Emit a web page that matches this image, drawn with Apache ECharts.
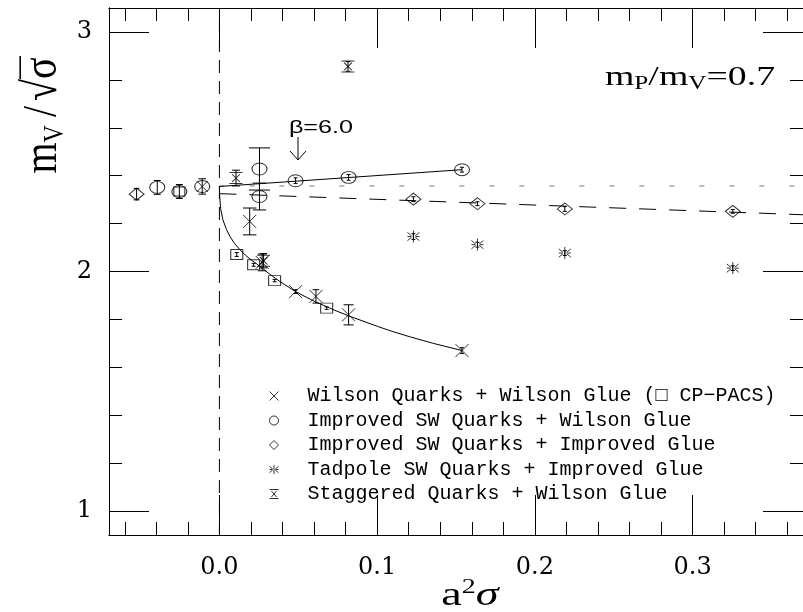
<!DOCTYPE html>
<html>
<head>
<meta charset="utf-8">
<script src="https://cdn.jsdelivr.net/npm/echarts@6/dist/echarts.min.js"></script>
<style>html,body{margin:0;background:#fff}#chart{width:803px;height:612px}</style>
</head>
<body>
<div id="chart"></div>
<script>
// x = a^2 sigma, y = m_V / sqrt(sigma)
const xMajor = [0, 0.1, 0.2, 0.3];
const xMinor = [-0.06, -0.04, -0.02, 0.02, 0.04, 0.06, 0.08, 0.12, 0.14, 0.16, 0.18,
                0.22, 0.24, 0.26, 0.28, 0.32, 0.34, 0.36];
const yMajor = [1, 2, 3];
const yMinor = [1.2, 1.4, 1.6, 1.8, 2.2, 2.4, 2.6, 2.8];

// [x, y, error]
const wilson = [[0.0192, 2.209, 0.056], [0.0271, 2.038, 0.035], [0.0483, 1.916, 0.008],
                [0.0612, 1.896, 0.028], [0.0819, 1.819, 0.042], [0.1538, 1.670, 0.012]];
const cpPacs = [[0.0110, 2.071, 0.008], [0.0217, 2.028, 0.006], [0.0350, 1.962, 0.005], [0.0680, 1.847, 0.005]];
const swWilson = [[0.0254, 2.428, 0.088], [0.0254, 2.313, 0.056], [0.0483, 2.379, 0.012],
                  [0.0819, 2.393, 0.012], [0.1538, 2.425, 0.010]];
const swImproved = [[0.123, 2.302, 0.010], [0.1636, 2.283, 0.008], [0.219, 2.261, 0.010], [0.3255, 2.251, 0.008]];
const tadpole = [[0.123, 2.146, 0.012], [0.1636, 2.112, 0.010], [0.219, 2.077, 0.010], [0.3255, 2.014, 0.010]];
const staggered = [[0.0105, 2.390, 0.033], [0.028, 2.045, 0.030], [0.0815, 2.856, 0.020]];

// continuum values, drawn left of zero
const contImproved = [[-0.0525, 2.323, 0.024]];
const contSW = [[-0.0394, 2.351, 0.029], [-0.0254, 2.334, 0.029], [-0.0109, 2.355, 0.032]];
const contCP = [[-0.0254, 2.334]];
const contWilson = [[-0.0109, 2.355]];

// fit curves
const wilsonFit = [[0, 2.355], [0.0002, 2.31], [0.0008, 2.262], [0.0022, 2.216], [0.0045, 2.175],
                   [0.0067, 2.146], [0.0095, 2.118], [0.013, 2.091], [0.0165, 2.068], [0.0202, 2.048],
                   [0.024, 2.030], [0.0275, 2.012], [0.0315, 1.991], [0.0358, 1.970], [0.0405, 1.949],
                   [0.0483, 1.916], [0.055, 1.893], [0.0607, 1.874], [0.067, 1.856], [0.0732, 1.838],
                   [0.0819, 1.815], [0.091, 1.793], [0.1002, 1.771], [0.11, 1.749], [0.121, 1.727],
                   [0.135, 1.701], [0.1538, 1.670]];
const swWilsonFit = [[0, 2.355], [0.1538, 2.425]];
const swImprovedFit = [[0, 2.325], [0.37, 2.237]];
const continuumRef = [[0, 2.357], [0.37, 2.357]];
const zeroLine = [[0, 0.9], [0, 3.1]];

const names = [
  "Wilson Quarks + Wilson Glue (\u25A1 CP\u2212PACS)",
  "Improved SW Quarks + Wilson Glue",
  "Improved SW Quarks + Improved Glue",
  "Tadpole SW Quarks + Improved Glue",
  "Staggered Quarks + Wilson Glue",
];

const CROSS = "path://M0,0L1,1M1,0L0,1";
const BURST = "path://M0,0.15L0.35,0.45M0,0.85L0.35,0.55M1,0.15L0.65,0.45M1,0.85L0.65,0.55M0,0.5L0.3,0.5M1,0.5L0.7,0.5M0.5,0L0.5,1";
const STAG = "path://M0,0L1,0M0,1L1,1M0.2,0.15L0.8,0.85M0.8,0.15L0.2,0.85";

const hollow = { color: "transparent", borderColor: "#000", borderWidth: 1 };
const serif = "Liberation Serif";

function xAx(pos, vals, len, labels) {
  return {
    type: "value", position: pos, min: -0.07, max: 0.37,
    axisLine: { show: true, onZero: false, lineStyle: { color: "#000", width: 1 } },
    splitLine: { show: false },
    axisTick: { show: true, inside: true, length: len, customValues: vals, lineStyle: { color: "#000" } },
    axisLabel: labels ? {
      show: true, customValues: vals, margin: 21, color: "#000",
      fontFamily: "DejaVu Serif", fontSize: 24, formatter: (v) => v.toFixed(1),
    } : { show: false },
  };
}
function yAx(pos, vals, len, labels) {
  return {
    type: "value", position: pos, min: 0.9, max: 3.1,
    axisLine: { show: true, onZero: false, lineStyle: { color: "#000", width: 1 } },
    splitLine: { show: false },
    axisTick: { show: true, inside: true, length: len, customValues: vals, lineStyle: { color: "#000" } },
    axisLabel: labels ? {
      show: true, customValues: vals, margin: 17, color: "#000",
      fontFamily: "DejaVu Serif", fontSize: 24, formatter: (v) => String(v),
    } : { show: false },
  };
}

function errRender(params, api) {
  const x = api.value(0), y = api.value(1), e = api.value(2);
  const p1 = api.coord([x, y + e]), p2 = api.coord([x, y - e]);
  const len = p2[1] - p1[1];
  const w = Math.max(4, Math.min(22, len * 0.5)) / 2;
  const st = { stroke: "#000", lineWidth: 1, fill: null };
  return {
    type: "group", children: [
      { type: "line", shape: { x1: p1[0], y1: p1[1], x2: p2[0], y2: p2[1] }, style: st },
      { type: "line", shape: { x1: p1[0] - w, y1: p1[1], x2: p1[0] + w, y2: p1[1] }, style: st },
      { type: "line", shape: { x1: p2[0] - w, y1: p2[1], x2: p2[0] + w, y2: p2[1] }, style: st },
    ],
  };
}

function scat(name, data, symbol, size) {
  return { type: "scatter", name, data, symbol, symbolSize: size, itemStyle: hollow,
           z: 4, silent: true, animation: false };
}
function line(name, data, type, color, extra) {
  return Object.assign({ type: "line", name, data, showSymbol: false, silent: true, animation: false,
           lineStyle: { color: color || "#000", width: 1, type: type || "solid" }, z: 2 }, extra || {});
}

const big = { fontFamily: serif, fontSize: 40, lineHeight: 44, fill: "#000" };

const chart = echarts.init(document.getElementById("chart"), null, { renderer: "canvas" });
chart.setOption({
  backgroundColor: "#fff",
  animation: false,
  grid: { left: 109, right: -12, top: 8, bottom: 77, containLabel: false },
  xAxis: [xAx("bottom", xMajor, 40, true), xAx("bottom", xMinor, 13, false),
          xAx("top", xMajor, 40, false), xAx("top", xMinor, 13, false)],
  yAxis: [yAx("left", yMajor, 40, true), yAx("left", yMinor, 13, false),
          yAx("right", yMajor, 40, false), yAx("right", yMinor, 13, false)],
  legend: {
    data: names, orient: "vertical", left: 269, top: 386, padding: 0,
    itemWidth: 9, itemHeight: 9, itemGap: 4.5, selectedMode: false,
    itemStyle: { color: "transparent", borderColor: "#000", borderWidth: 1 },
    textStyle: { fontFamily: "Liberation Mono", fontSize: 20, color: "#000" },
    formatter: (n) => "  " + n,
  },
  graphic: [
    {
      type: "group", x: 43, y: 79, rotation: Math.PI / 2, scaleY: 1.2,
      children: [
        { type: "text", x: 0, y: 0,
          style: { text: "{m|m}{s|V}{k|/}{m|\u221A}", align: "right", verticalAlign: "middle",
            rich: { m: big, k: Object.assign({}, big, { padding: [0, 5, 0, 5] }),
                    s: { fontFamily: serif, fontSize: 24, lineHeight: 24, verticalAlign: "bottom",
                         padding: [0, 3, 0, 0], fill: "#000" } } } },
        { type: "text", x: 0, y: 0,
          style: { text: "{m|\u03C3}", align: "left", verticalAlign: "middle", rich: { m: big } } },
        { type: "line", shape: { x1: 0, y1: -19, x2: 23, y2: -19 }, style: { stroke: "#000", lineWidth: 1.3 } },
      ],
    },
    { type: "text", x: 470, y: 596, scaleX: 1.4,
      style: { text: "{a|a}{p|2}{s|\u03C3}", align: "center", verticalAlign: "middle",
        rich: { a: { fontFamily: serif, fontSize: 33, lineHeight: 36, fill: "#000" },
                p: { fontFamily: serif, fontSize: 20, lineHeight: 20, verticalAlign: "top", fill: "#000" },
                s: { fontFamily: serif, fontSize: 33, lineHeight: 36, fontStyle: "italic", fill: "#000" } } } },
    { type: "text", x: 690, y: 78, scaleX: 1.4,
      style: { text: "{m|m}{s|P}{m|/m}{s|V}{m|=0.7}", align: "center", verticalAlign: "middle",
        rich: { m: { fontFamily: serif, fontSize: 27, lineHeight: 30, fill: "#000" },
                s: { fontFamily: serif, fontSize: 18, lineHeight: 18, verticalAlign: "bottom", fill: "#000" } } } },
    { type: "text", x: 321, y: 128, scaleX: 1.4,
      style: { text: "\u03B2=6.0", align: "center", verticalAlign: "middle",
        fontFamily: "Liberation Sans", fontSize: 18, fill: "#000" } },
    { type: "polyline", shape: { points: [[298, 137], [298, 160]] }, style: { stroke: "#000", lineWidth: 1, fill: null } },
    { type: "polyline", shape: { points: [[290, 151], [298, 160], [306, 151]] }, style: { stroke: "#000", lineWidth: 1, fill: null } },
  ],
  series: [
    line("zero", zeroLine, [13, 8]),
    line("continuum", continuumRef, [5, 25], "#777"),
    line("fit-wilson", wilsonFit),
    line("fit-sw-wilson", swWilsonFit),
    line("fit-sw-improved", swImprovedFit, [17, 13]),
    {
      type: "custom", name: "errors", renderItem: errRender, silent: true, animation: false, z: 3,
      encode: { x: 0, y: 1 },
      data: [].concat(wilson, cpPacs, swWilson, swImproved, tadpole, staggered, contImproved, contSW),
    },
    scat(names[0], wilson, CROSS, 13),
    scat(names[1], swWilson, "circle", [15, 12]),
    scat(names[2], swImproved, "diamond", [15, 12]),
    scat(names[3], tadpole, BURST, 12),
    scat(names[4], staggered, STAG, [13, 11]),
    scat("cp-pacs", cpPacs, "rect", [12, 10]),
    scat("cont-improved", contImproved, "diamond", [15, 12]),
    scat("cont-sw", contSW, "circle", [15, 12]),
    scat("cont-cp", contCP, "rect", [11, 9]),
    scat("cont-wilson", contWilson, CROSS, 11),
  ],
});
</script>
</body>
</html>
